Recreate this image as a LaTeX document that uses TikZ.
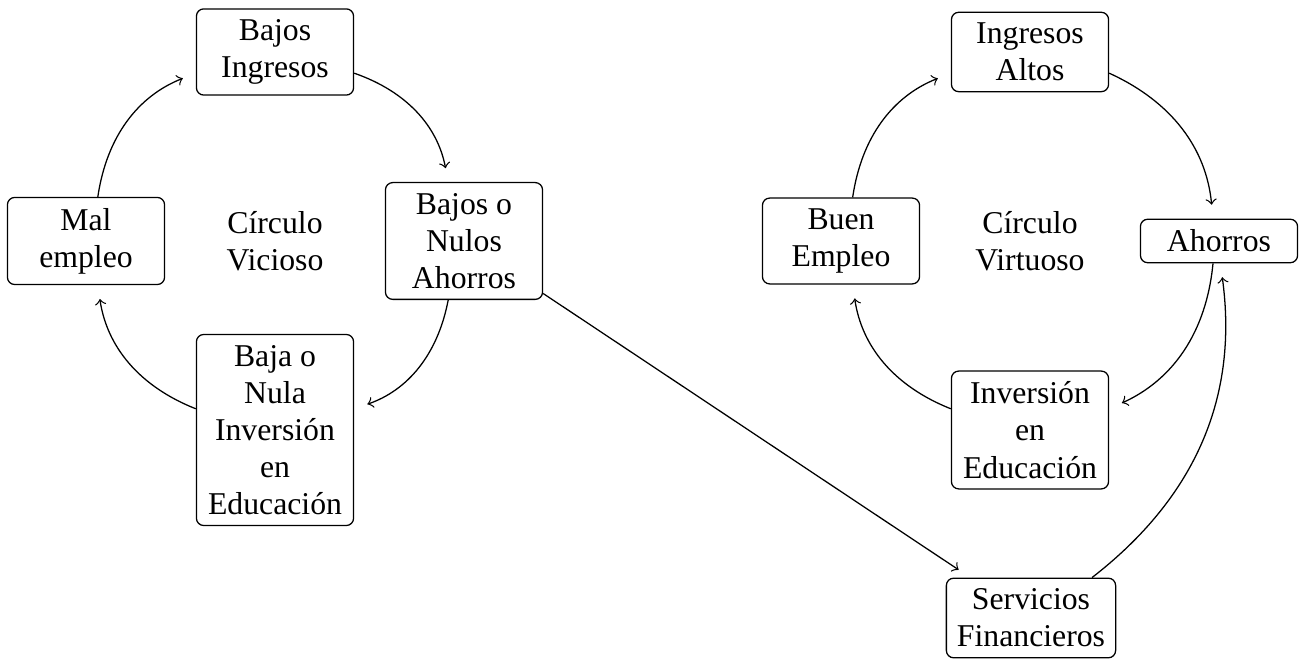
\documentclass[tikz,border=0pt]{standalone}
\usepackage{fontspec}
\setmainfont{Liberation Serif}
\begin{document}
\begin{tikzpicture}[x=0.315pt,y=-0.315pt,
  txt/.style={align=center, inner sep=0.3333em, font=\fontsize{10pt}{11.7pt}\selectfont},
  box/.style={txt, draw, rounded corners=2.3pt, minimum width=49.5pt},
  arr/.style={->, shorten >=4.4pt}]
\useasboundingbox (0,0) rectangle (1309,660);
% left cycle
\node[box] (bi) at (275,52) {Bajos\\Ingresos};
\node[box] (bn) at (464,241) {Bajos o\\Nulos\\Ahorros};
\node[box] (me) at (86,241) {Mal\\empleo};
\node[box] (bj) at (275,430) {Baja o\\Nula\\Inversión\\en\\Educación};
\node[txt] (cv) at (275,241) {Círculo\\Vicioso};
% right cycle
\node[box] (ia) at (1030,52) {Ingresos\\Altos};
\node[box] (ah) at (1219,241) {Ahorros};
\node[box] (be) at (841,241) {Buen\\Empleo};
\node[box] (ie) at (1030,430) {Inversión\\en\\Educación};
\node[box] (sf) at (1031,618) {Servicios\\Financieros};
\node[txt] (cvt) at (1030,241) {Círculo\\Virtuoso};
% connectors
\draw[arr] (me) to[bend left=30] (bi);
\draw[arr] (bi) to[bend left=30] (bn);
\draw[arr] (bn) to[bend left=30] (bj);
\draw[arr] (bj) to[bend left=30] (me);
\draw[arr] (be) to[bend left=30] (ia);
\draw[arr] (ia) to[bend left=30] (ah);
\draw[arr] (ah) to[bend left=30] (ie);
\draw[arr] (ie) to[bend left=30] (be);
\draw[arr] (bn) -- (sf);
\draw[arr] (sf) to[bend right=30] (ah);
\end{tikzpicture}
\end{document}
